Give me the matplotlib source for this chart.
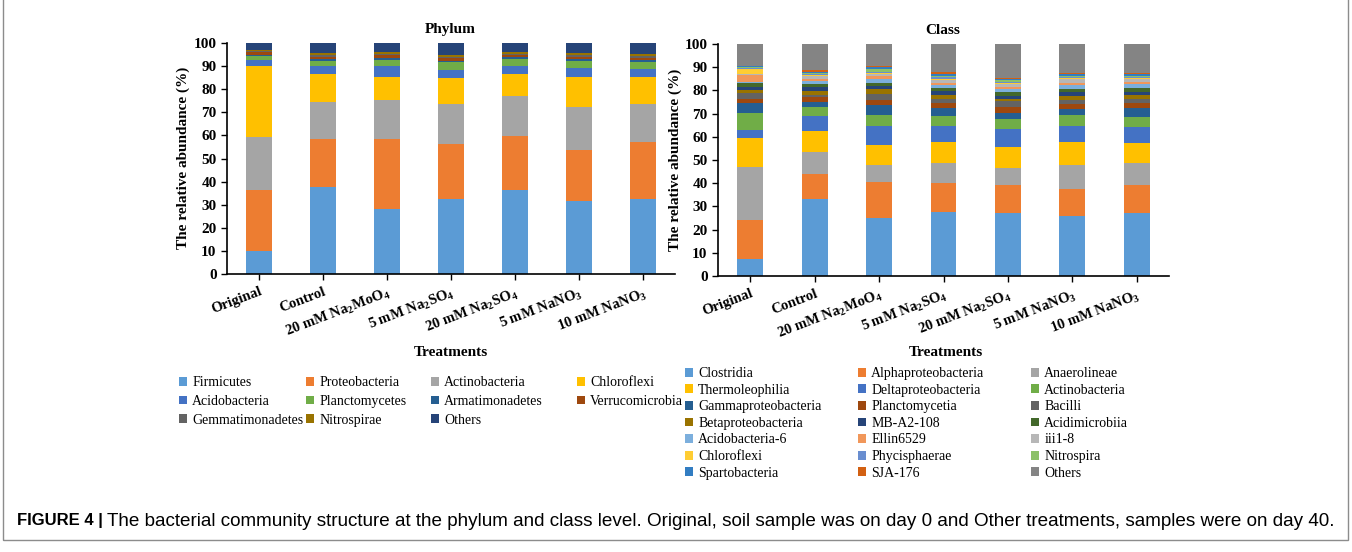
import matplotlib

matplotlib.use("Agg")
import matplotlib.pyplot as plt  # noqa: E402
import matplotlib.transforms as mtransforms  # noqa: E402
import numpy as np  # noqa: E402
from matplotlib.patches import Patch, Rectangle  # noqa: E402

plt.rcParams["font.family"] = ["Liberation Serif", "DejaVu Serif"]
plt.rcParams["mathtext.fontset"] = "custom"
plt.rcParams["mathtext.bf"] = "Liberation Serif:bold"
plt.rcParams["mathtext.rm"] = "Liberation Serif:bold"

treatments = [
    "Original",
    "Control",
    r"20 mM Na$_\mathbf{2}$MoO$_\mathbf{4}$",
    r"5 mM Na$_\mathbf{2}$SO$_\mathbf{4}$",
    r"20 mM Na$_\mathbf{2}$SO$_\mathbf{4}$",
    r"5 mM NaNO$_\mathbf{3}$",
    r"10 mM NaNO$_\mathbf{3}$",
]

# phylum level (%), one list per phylum, values per treatment
phylum_names = [
    "Firmicutes", "Proteobacteria", "Actinobacteria", "Chloroflexi",
    "Acidobacteria", "Planctomycetes", "Armatimonadetes", "Verrucomicrobia",
    "Gemmatimonadetes", "Nitrospirae", "Others",
]
firmicutes = [10.0, 37.5, 28.0, 32.3, 36.4, 31.5, 32.5]
proteobacteria = [26.5, 20.8, 30.4, 24.0, 23.3, 22.2, 24.6]
actinobacteria = [23.0, 16.0, 16.9, 17.3, 17.3, 18.7, 16.5]
chloroflexi = [30.5, 12.3, 9.8, 11.1, 9.7, 13.0, 11.8]
acidobacteria = [2.6, 3.4, 4.9, 3.6, 3.2, 3.9, 3.5]
planctomycetes = [1.8, 2.3, 2.8, 3.3, 3.3, 3.0, 3.0]
armatimonadetes = [0.5, 0.8, 0.6, 0.8, 0.6, 0.7, 0.7]
verrucomicrobia = [1.0, 1.0, 1.2, 1.0, 1.0, 1.1, 1.0]
gemmatimonadetes = [0.5, 0.8, 0.6, 0.6, 0.6, 0.7, 0.7]
nitrospirae = [0.6, 0.9, 1.0, 0.8, 0.8, 1.0, 0.9]
phylum_others = [3.0, 4.2, 3.8, 5.2, 3.8, 4.2, 4.8]
phylum_values = [
    firmicutes, proteobacteria, actinobacteria, chloroflexi, acidobacteria,
    planctomycetes, armatimonadetes, verrucomicrobia, gemmatimonadetes,
    nitrospirae, phylum_others,
]

# class level (%)
class_names = [
    "Clostridia", "Alphaproteobacteria", "Anaerolineae", "Thermoleophilia",
    "Deltaproteobacteria", "Actinobacteria", "Gammaproteobacteria",
    "Planctomycetia", "Bacilli", "Betaproteobacteria", "MB-A2-108",
    "Acidimicrobiia", "Acidobacteria-6", "Ellin6529", "iii1-8", "Chloroflexi",
    "Phycisphaerae", "Nitrospira", "Spartobacteria", "SJA-176", "Others",
]
clostridia = [7.2, 33.2, 24.9, 27.7, 27.0, 26.0, 27.0]
alphaproteobacteria = [16.9, 10.8, 15.7, 12.3, 12.2, 11.5, 12.2]
anaerolineae = [22.7, 9.6, 7.2, 8.6, 7.4, 10.2, 9.5]
thermoleophilia = [12.5, 8.9, 8.7, 9.0, 9.1, 10.2, 8.8]
deltaproteobacteria = [3.8, 6.6, 8.2, 7.2, 7.7, 6.9, 6.6]
actinobacteria_c = [7.3, 3.6, 4.7, 4.3, 4.3, 4.6, 4.3]
gammaproteobacteria = [4.1, 2.4, 4.4, 3.2, 2.4, 2.5, 3.9]
planctomycetia = [1.8, 1.9, 2.1, 2.4, 2.9, 2.2, 2.1]
bacilli = [2.4, 1.2, 2.4, 1.5, 2.4, 1.8, 1.8]
betaproteobacteria = [1.5, 1.5, 2.2, 1.7, 0.9, 1.7, 1.8]
mb_a2_108 = [1.4, 1.6, 1.4, 1.8, 1.4, 1.6, 1.4]
acidimicrobiia = [1.7, 1.5, 1.4, 1.2, 1.7, 1.5, 1.5]
acidobacteria_6 = [0.3, 1.1, 1.5, 1.3, 1.1, 1.5, 1.7]
ellin6529 = [3.2, 1.0, 1.4, 1.1, 1.1, 1.1, 1.2]
iii1_8 = [0.2, 1.4, 0.9, 1.2, 1.2, 1.5, 1.0]
chloroflexi_c = [2.4, 0.4, 0.6, 0.6, 0.5, 0.4, 0.5]
phycisphaerae = [0.3, 0.4, 0.4, 0.6, 0.4, 0.5, 0.4]
nitrospira = [0.2, 0.5, 1.0, 0.7, 0.6, 0.5, 0.6]
spartobacteria = [0.6, 0.5, 0.8, 0.7, 0.6, 0.7, 0.6]
sja_176 = [0.1, 0.6, 0.6, 0.9, 0.6, 0.8, 0.6]
class_others = [9.4, 11.3, 9.5, 12.0, 14.5, 12.3, 12.5]
class_values = [
    clostridia, alphaproteobacteria, anaerolineae, thermoleophilia,
    deltaproteobacteria, actinobacteria_c, gammaproteobacteria, planctomycetia,
    bacilli, betaproteobacteria, mb_a2_108, acidimicrobiia, acidobacteria_6,
    ellin6529, iii1_8, chloroflexi_c, phycisphaerae, nitrospira,
    spartobacteria, sja_176, class_others,
]

office = [
    "#5B9BD5", "#ED7D31", "#A5A5A5", "#FFC000", "#4472C4", "#70AD47",
    "#255E91", "#9E480E", "#636363", "#997300", "#264478",
]
phylum_colors = office
class_colors = office + [
    "#43682B", "#7CAFDD", "#F1975A", "#B7B7B7", "#FFCD33", "#698ED0",
    "#8CC168", "#327DC2", "#D26012", "#848484",
]

W, H = 1352, 552
fig = plt.figure(figsize=(W / 100, H / 100), dpi=100)


def px_axes(left, right, top, bottom):
    return fig.add_axes([left / W, 1 - bottom / H, (right - left) / W, (bottom - top) / H])


def stacked(ax, values, colors, names):
    x = np.arange(len(treatments))
    bottom = np.zeros(len(treatments))
    handles = []
    for vals, col, name in zip(values, colors, names):
        ax.bar(x, vals, bottom=bottom, width=0.4, color=col, linewidth=0)
        bottom += np.array(vals)
        handles.append(Patch(facecolor=col, label=name))
    ax.set_xlim(-0.5, len(treatments) - 0.5)
    ax.set_ylim(0, 100)
    ax.set_yticks(range(0, 101, 10))
    ax.set_xticks(x)
    ax.set_xticklabels(treatments, rotation=21, ha="right", rotation_mode="anchor",
                       fontsize=10.5, fontweight="bold")
    # nudge rotated labels a little to the right, as in the source chart
    shift = mtransforms.ScaledTranslation(5 / 100, 2 / 100, fig.dpi_scale_trans)
    for lab in ax.get_xticklabels():
        lab.set_transform(lab.get_transform() + shift)
    for lab in ax.get_yticklabels():
        lab.set_fontweight("bold")
        lab.set_fontsize(11)
    ax.tick_params(axis="both", length=4, width=1, color="black")
    ax.tick_params(axis="x", pad=4)
    for s in ("top", "right"):
        ax.spines[s].set_visible(False)
    for s in ("left", "bottom"):
        ax.spines[s].set_linewidth(1.2)
    return handles


def column_legends(handles, ncol, xs, top, spacing):
    # one legend per column so the columns sit where the reference has them
    for c in range(ncol):
        col = handles[c::ncol]
        fig.legend(col, [h.get_label() for h in col], loc="upper left",
                   bbox_to_anchor=(xs[c] / W, 1 - top / H), frameon=False,
                   fontsize=10, handlelength=0.6, handleheight=0.6,
                   handletextpad=0.35, borderaxespad=0, borderpad=0,
                   labelspacing=spacing)


ax1 = px_axes(227, 675, 43, 274)
h1 = stacked(ax1, phylum_values, phylum_colors, phylum_names)
ax2 = px_axes(718, 1169, 44, 276)
h2 = stacked(ax2, class_values, class_colors, class_names)

bold = dict(fontweight="bold", fontsize=11, ha="center", va="center")
fig.text(450 / W, 1 - 30 / H, "Phylum", **bold)
fig.text(943 / W, 1 - 30 / H, "Class", **bold)
fig.text(451 / W, 1 - 353 / H, "Treatments", **bold)
fig.text(946 / W, 1 - 352 / H, "Treatments", **bold)
fig.text(183 / W, 1 - 158 / H, "The relative abundance (%)", rotation=90, **bold)
fig.text(675 / W, 1 - 160 / H, "The relative abundance (%)", rotation=90, **bold)

column_legends(h1, 4, [179, 306, 431, 577], 376, 0.42)
column_legends(h2, 3, [685, 858, 1031], 367, 0.26)

# figure frame and caption
fig.patches.append(Rectangle((3 / W, 12 / H), 1345 / W, 545 / H, transform=fig.transFigure,
                             fill=False, edgecolor="#8c8c8c", linewidth=1))
head = fig.text(17 / W, 1 - 521 / H, "FIGURE 4 |", family="Liberation Sans", fontsize=12,
                fontweight="bold", va="center")
fig.canvas.draw()
head_end = head.get_window_extent().x1
fig.text((head_end + 4) / W, 1 - 521 / H,
         "The bacterial community structure at the phylum and class level. Original, soil "
         "sample was on day 0 and Other treatments, samples were on day 40.",
         family="Liberation Sans", fontsize=13.6, va="center")

fig.savefig("out.png", dpi=100)
